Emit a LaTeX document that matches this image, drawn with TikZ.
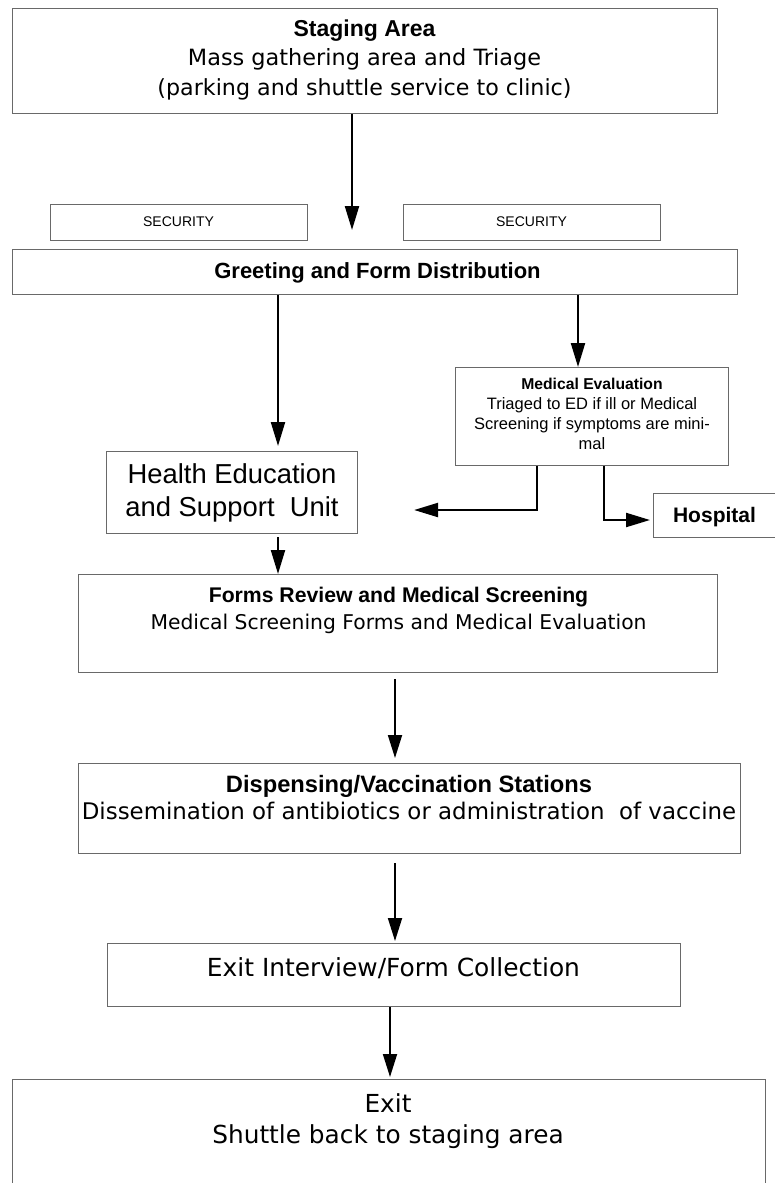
\documentclass[tikz,border=0pt]{standalone}
\usepackage{fontspec}
\setmainfont{DejaVu Sans}
\newfontfamily\arialfont{Liberation Sans}
\usetikzlibrary{arrows.meta}
\definecolor{boxgray}{RGB}{105,105,105}
\newcommand{\setfs}[2]{\fontsize{#1pt}{#2pt}\selectfont}

\begin{document}
\begin{tikzpicture}[x=1pt,y=-1pt,
    box/.style={draw=boxgray,line width=1.1pt,inner sep=0pt,anchor=north west},
    txt/.style={align=center,inner sep=0pt,anchor=base},
    flow/.style={-{Triangle[length=24pt,width=14pt]},line width=2.2pt},
    flowthin/.style={-{Triangle[length=23pt,width=14pt]},line width=1.8pt}]
  \useasboundingbox (0,0) rectangle (775,1183);

  % Boxes
  \node[box,minimum width=705,minimum height=105] (stage) at (12,8) {};
  \node[box,minimum width=257,minimum height=36] (secl) at (50,204) {};
  \node[box,minimum width=257,minimum height=36] (secr) at (403,204) {};
  \node[box,minimum width=725,minimum height=45] (greet) at (12,249) {};
  \node[box,minimum width=273,minimum height=98] (med) at (455,367) {};
  \node[box,minimum width=251,minimum height=82] (health) at (106,451) {};
  \node[box,minimum width=122,minimum height=44] (hosp) at (653,493) {};
  \node[box,minimum width=639,minimum height=98] (forms) at (78,574) {};
  \node[box,minimum width=662,minimum height=90] (disp) at (78,763) {};
  \node[box,minimum width=573,minimum height=63] (intv) at (107,943) {};
  \node[box,minimum width=753,minimum height=150] (exit) at (12,1079) {};

  % Texts (base = last line)
  \node[txt,font=\setfs{22.4}{29.5}] (stage-t) at (364.5,95)
    {{\arialfont\bfseries\setfs{23}{29.5}Staging Area}\\
     Mass gathering area and Triage\\
     {\setfs{22.2}{29.5}(parking and shuttle service to clinic)}};
  \node[txt,font=\arialfont\setfs{14}{17}] (secl-t) at (178.5,226) {SECURITY};
  \node[txt,font=\arialfont\setfs{14}{17}] (secr-t) at (531.5,226) {SECURITY};
  \node[txt,font=\arialfont\bfseries\setfs{22}{26}] (greet-t) at (377.5,278)
    {Greeting and Form Distribution};
  \node[txt,font=\arialfont\setfs{16.5}{19.7}] (med-t) at (592,449)
    {{\bfseries\setfs{15.7}{19.7}Medical Evaluation}\\
     Triaged to ED if ill or Medical\\
     Screening if symptoms are mini-\\
     mal};
  \node[txt,font=\arialfont\setfs{27.4}{33}] (health-t) at (232,516)
    {Health Education\\ and Support\ \ Unit};
  \node[txt,font=\arialfont\bfseries\setfs{21}{25}] (hosp-t) at (714.5,522) {Hospital};
  \node[txt,font=\setfs{20.3}{26.5}] (forms-t) at (398.5,629)
    {{\arialfont\bfseries\setfs{21.2}{26.5}Forms Review and Medical Screening}\\
     Medical Screening Forms and Medical Evaluation};
  \node[txt,font=\setfs{22.9}{27}] (disp-t) at (409,819)
    {{\arialfont\bfseries\setfs{23.7}{27}Dispensing/Vaccination Stations}\\
     Dissemination of antibiotics or administration\ \ of vaccine};
  \node[txt,font=\setfs{24.9}{30}] (intv-t) at (393.5,976)
    {Exit Interview/Form Collection};
  \node[txt,font=\setfs{24.8}{31}] (exit-t) at (388,1143)
    {Exit\\ Shuttle back to staging area};

  % Flow
  \draw[flow,shorten >=19pt] (stage.south -| 352,0) -- (greet.north -| 352,0);
  \draw[flow,shorten >=5pt] (greet.south -| 278,0) -- (health.north -| 278,0);
  \draw[flow] (greet.south -| 578,0) -- (med.north -| 578,0);
  \draw[flow,shorten >=56pt] (med.south -| 537,0) |- (health.east |- 0,510);
  \draw[flow,shorten >=3pt] (med.south -| 604,0) |- (hosp.west |- 0,520);
  \draw[flow,shorten <=3pt] (health.south -| 278,0) -- (forms.north -| 278,0);
  \draw[flowthin,shorten <=6pt,shorten >=5pt] (forms.south -| 395,0) -- (disp.north -| 395,0);
  \draw[flowthin,shorten <=9pt,shorten >=2pt] (disp.south -| 395,0) -- (intv.north -| 395,0);
  \draw[flowthin,shorten >=2pt] (intv.south -| 390,0) -- (exit.north -| 390,0);
\end{tikzpicture}
\end{document}
